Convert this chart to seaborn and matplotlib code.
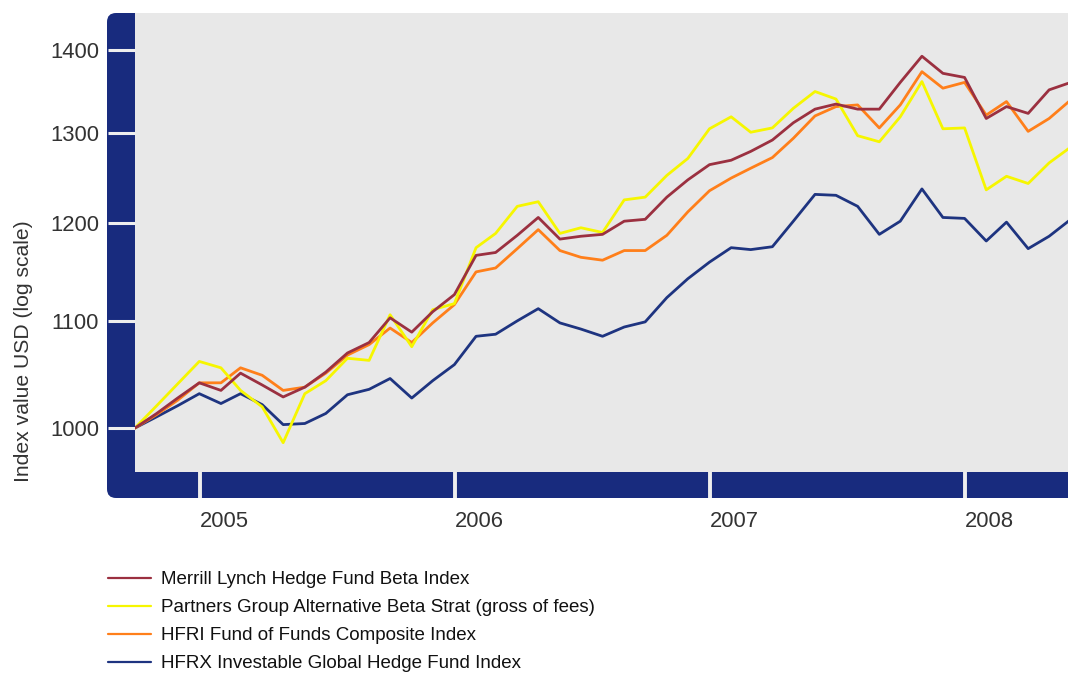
import numpy as np
import pandas as pd
import matplotlib
matplotlib.use("Agg")
import matplotlib.pyplot as plt
from matplotlib.patches import FancyBboxPatch
from matplotlib.transforms import IdentityTransform
import seaborn as sns

# month-end dates, Sep 2004 .. May 2008
months = pd.date_range("2004-09-01", periods=45, freq="MS") + pd.offsets.MonthEnd(0)

merrill = [1000, 1013, 1027, 1041, 1034, 1050, 1039, 1028, 1037, 1051,
           1069, 1079, 1103, 1089, 1109, 1126, 1166, 1169, 1187, 1206,
           1183, 1186, 1188, 1202, 1204, 1228, 1247, 1264, 1269, 1279,
           1292, 1312, 1328, 1334, 1328, 1328, 1360, 1392, 1371, 1366,
           1317, 1331, 1323, 1351, 1360]
partners = [1000, 1020, 1040, 1061, 1055, 1034, 1019, 987, 1031, 1043,
            1064, 1062, 1106, 1075, 1111, 1117, 1174, 1189, 1218, 1223,
            1189, 1195, 1190, 1225, 1228, 1252, 1271, 1305, 1319, 1301,
            1306, 1329, 1349, 1340, 1297, 1290, 1319, 1361, 1305, 1306,
            1236, 1251, 1243, 1266, 1284]
hfri = [1000, 1012, 1025, 1041, 1041, 1055, 1048, 1034, 1037, 1050,
        1067, 1077, 1093, 1079, 1098, 1116, 1149, 1153, 1173, 1193,
        1171, 1164, 1161, 1171, 1171, 1187, 1212, 1235, 1249, 1260,
        1272, 1294, 1320, 1331, 1333, 1306, 1333, 1373, 1353, 1360,
        1321, 1337, 1302, 1317, 1339]
hfrx = [1000, 1010, 1020, 1031, 1022, 1031, 1021, 1003, 1004, 1013,
        1030, 1035, 1045, 1027, 1043, 1058, 1085, 1087, 1100, 1112,
        1098, 1092, 1085, 1094, 1099, 1123, 1142, 1159, 1174, 1172,
        1175, 1202, 1231, 1230, 1218, 1188, 1202, 1237, 1206, 1205,
        1181, 1201, 1173, 1186, 1204]

series_names = ["Merrill Lynch Hedge Fund Beta Index",
                "Partners Group Alternative Beta Strat (gross of fees)",
                "HFRI Fund of Funds Composite Index",
                "HFRX Investable Global Hedge Fund Index"]
series_values = [merrill, partners, hfri, hfrx]
series_colors = ["#9b3040", "#f6f600", "#ff7f1a", "#1e3480"]

y_ticks = [1000, 1100, 1200, 1300, 1400]
x_tick_dates = pd.to_datetime(["2005-01-01", "2006-01-01", "2007-01-01", "2008-01-01"])
x_tick_labels = ["2005", "2006", "2007", "2008"]

navy = "#182b7e"
text_col = "#333333"

sns.set_theme(style="white")
plt.rcParams["font.family"] = ["Liberation Sans", "DejaVu Sans"]

W, H = 1068, 675
fig = plt.figure(figsize=(W / 100, H / 100), dpi=100)
ax = fig.add_axes([135 / W, (H - 472) / H, (W - 135) / W, (472 - 13) / H])
ax.set_facecolor("#e8e8e8")

# thick navy frame behind left and bottom of the plot
frame = FancyBboxPatch((107, H - 498), 1100, 485,
                       boxstyle="round,pad=0,rounding_size=9",
                       transform=IdentityTransform(),
                       facecolor=navy, edgecolor="none", zorder=-1)
fig.add_artist(frame)

handles = {}
# draw navy first so the others sit on top
for idx in [3, 2, 1, 0]:
    df = pd.DataFrame({"date": months, "value": series_values[idx]})
    sns.lineplot(data=df, x="date", y="value", ax=ax, color=series_colors[idx],
                 linewidth=2.0, label=series_names[idx])
    handles[idx] = ax.lines[-1]
ax.get_legend().remove()

ax.set_yscale("log")
ax.set_ylim(961.6, 1446.6)
ax.set_xlim(pd.Timestamp("2004-09-30"), pd.Timestamp("2008-05-27"))
ax.set_yticks(y_ticks, labels=[str(v) for v in y_ticks])
ax.set_xticks(x_tick_dates, labels=x_tick_labels)
ax.minorticks_off()
for lab in ax.get_xticklabels():
    lab.set_horizontalalignment("left")

for s in ax.spines.values():
    s.set_visible(False)
ax.tick_params(axis="y", direction="out", length=19.5, width=2.2,
               color="#eeeeee", pad=6.5, labelsize=15.8, labelcolor=text_col,
               left=True)
ax.tick_params(axis="x", direction="out", length=18.8, width=2.8,
               color="#eeeeee", pad=9, labelsize=15.8, labelcolor=text_col,
               bottom=True)
ax.set_xlabel("")
ax.set_ylabel("Index value USD (log scale)", fontsize=15.2, color=text_col)
ax.yaxis.set_label_coords((33 - 135) / 933, (472 - 351) / 459)

fig.legend([handles[i] for i in range(4)], series_names,
           loc="upper left", bbox_to_anchor=(108 / W, (H - 571) / H),
           frameon=False, fontsize=13.5, handlelength=2.3, handletextpad=0.55,
           labelspacing=0.58, borderpad=0, borderaxespad=0,
           labelcolor="#111111")
for line in fig.legends[0].get_lines():
    line.set_linewidth(1.6)

fig.savefig("out.png", dpi=100)
